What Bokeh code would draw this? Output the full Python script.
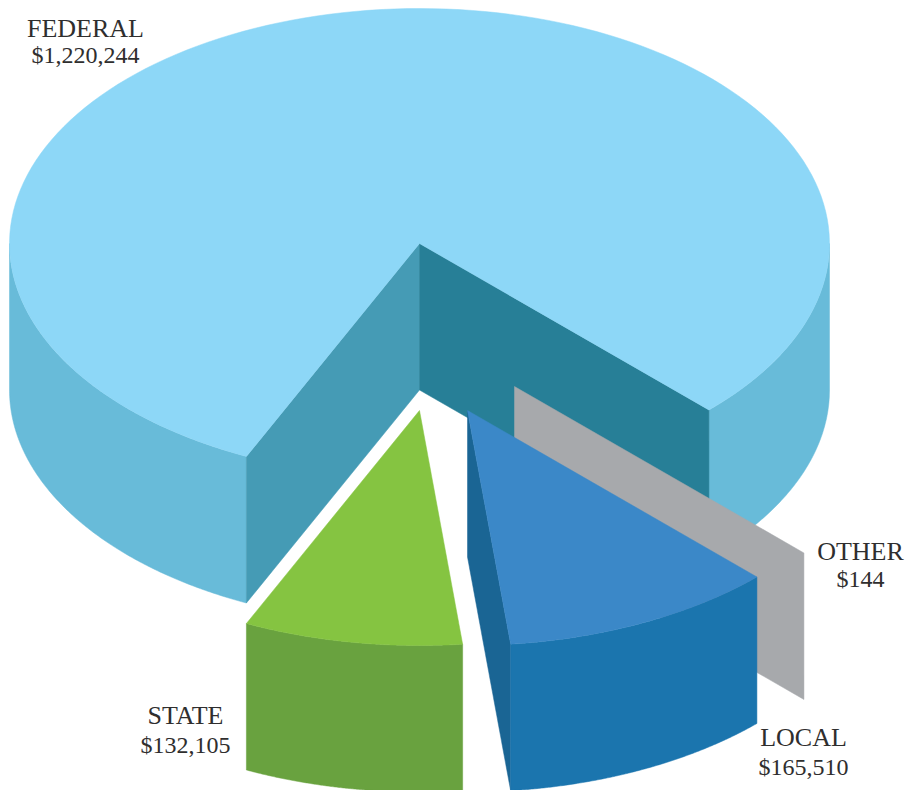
import numpy as np
from bokeh.plotting import figure
from bokeh.models import Range1d
from bokeh.embed import file_html
from bokeh.resources import INLINE
from bokeh.core.properties import value

categories = ["FEDERAL", "STATE", "LOCAL", "OTHER"]
amounts = [1220244, 132105, 165510, 144]

CX, CY, RX, RY, DEPTH = 419, 243, 410, 235, 146.5
START = 45.1  # screen-clockwise degrees where LOCAL's far edge sits
DRAWN = 0.99  # the small slices are drawn a touch narrower than their share
OFFSET = {"FEDERAL": (0, 0), "STATE": (0, 167), "LOCAL": (48, 167), "OTHER": (95, 143)}
TOTAL = sum(amounts)
sweep = {c: a / TOTAL * 360 * DRAWN for c, a in zip(categories, amounts)}
a_local_end = START + sweep["LOCAL"]
a_state_end = a_local_end + sweep["STATE"]
a_wrap = START + 360

p = figure(width=909, height=790, x_range=Range1d(0, 909), y_range=Range1d(790, 0),
           toolbar_location=None, output_backend="svg", min_border=0, outline_line_color=None,
           background_fill_color="white", border_fill_color="white")
p.axis.visible = False
p.grid.visible = False


def rim(cat, deg, dy=0.0):
    ox, oy = OFFSET[cat]
    t = np.radians(deg)
    return CX + ox + RX * np.cos(t), CY + oy + RY * np.sin(t) + dy


def tip(cat, dy=0.0):
    ox, oy = OFFSET[cat]
    return CX + ox, CY + oy + dy


def arc(cat, a0, a1, dy=0.0):
    ts = np.linspace(a0, a1, 160)
    return rim(cat, ts, dy)


def poly(xs, ys, color):
    p.patch(list(xs), list(ys), fill_color=color, line_color=color, line_width=0.5)


def side(cat, a0, a1, color):
    x0, y0 = arc(cat, a0, a1)
    x1, y1 = arc(cat, a1, a0, DEPTH)
    poly(np.r_[x0, x1], np.r_[y0, y1], color)


def cut(cat, deg, color):
    tx, ty = tip(cat)
    rx, ry = rim(cat, deg)
    poly([tx, rx, rx, tx], [ty, ry, ry + DEPTH, ty + DEPTH], color)


def top(cat, a0, a1, color):
    x, y = arc(cat, a0, a1)
    tx, ty = tip(cat)
    poly(np.r_[tx, x], np.r_[ty, y], color)


# FEDERAL
side("FEDERAL", a_state_end, 180, "#68BBD9")
side("FEDERAL", 360, a_wrap, "#68BBD9")
cut("FEDERAL", a_state_end, "#459BB5")
cut("FEDERAL", a_wrap, "#277F97")
top("FEDERAL", a_state_end, a_wrap, "#8DD7F7")

# OTHER (almost no sweep: only its cut face shows)
cut("OTHER", START, "#A7A9AC")

# LOCAL
cut("LOCAL", a_local_end, "#1A6594")
side("LOCAL", START, a_local_end, "#1B75AE")
top("LOCAL", START, a_local_end, "#3B88C8")

# STATE
side("STATE", a_local_end, a_state_end, "#69A23F")
top("STATE", a_local_end, a_state_end, "#85C441")

label_pos = {"FEDERAL": (85, 28, 54), "STATE": (185, 715, 744), "LOCAL": (803, 737, 766), "OTHER": (860, 551, 578)}
for c, a in zip(categories, amounts):
    x, y1, y2 = label_pos[c]
    p.text([x], [y1], text=[c], text_font=value("Liberation Serif"),
           text_font_size="26px", text_color="#2F2E2E", text_align="center", text_baseline="middle")
    p.text([x], [y2], text=[f"${a:,}"], text_font=value("Liberation Serif"),
           text_font_size="24px", text_color="#2F2E2E", text_align="center", text_baseline="middle")

open("out.html", "w").write(file_html(p, INLINE))
